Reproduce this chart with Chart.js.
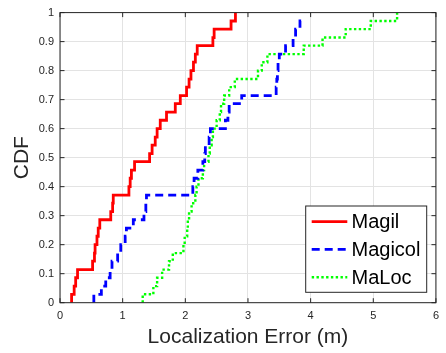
<!DOCTYPE html>
<html><head><meta charset="utf-8">
<style>html,body{margin:0;padding:0;background:#fff;}#wrap{width:446px;height:353px;}</style>
<script src="https://cdn.jsdelivr.net/npm/chart.js@4.4.0/dist/chart.umd.min.js"></script>
</head><body><div id="wrap"><canvas id="c" width="446" height="353" style="width:446px;height:353px"></canvas></div>
<script>
// ---- data ----
const seriesNames = ['Magil', 'Magicol', 'MaLoc'];
const xTickLabels = ['0', '1', '2', '3', '4', '5', '6'];
const yTickLabels = ['0', '0.1', '0.2', '0.3', '0.4', '0.5', '0.6', '0.7', '0.8', '0.9', '1'];

const magilErr = [0.185,0.185,0.226,0.25,0.28,0.52,0.55,0.56,0.59,0.61,0.635,0.81,0.84,0.85,1.10,1.12,1.14,1.19,1.43,1.47,1.52,1.55,1.60,1.70,1.84,1.92,2.02,2.06,2.09,2.13,2.16,2.19,2.44,2.46,2.73,2.80];
const magilCdf = [0,0.029,0.057,0.086,0.114,0.143,0.171,0.2,0.229,0.257,0.286,0.314,0.343,0.371,0.4,0.429,0.457,0.486,0.514,0.543,0.571,0.6,0.629,0.657,0.686,0.714,0.743,0.771,0.8,0.829,0.857,0.886,0.914,0.943,0.971,1.0];

const magicolErr = [0.54,0.54,0.66,0.73,0.80,0.83,0.92,0.97,1.04,1.06,1.17,1.34,1.37,1.38,2.12,2.14,2.20,2.28,2.31,2.32,2.38,2.40,2.64,2.68,2.70,2.90,3.45,3.46,3.47,3.48,3.50,3.60,3.72,3.76,3.83,3.90];
const magicolCdf = [0,0.029,0.057,0.086,0.114,0.143,0.171,0.2,0.229,0.257,0.286,0.314,0.343,0.371,0.4,0.429,0.457,0.486,0.514,0.543,0.571,0.6,0.629,0.657,0.686,0.714,0.743,0.771,0.8,0.829,0.857,0.886,0.914,0.943,0.971,0.971];

const malocErr = [1.32,1.32,1.49,1.55,1.63,1.74,1.80,1.97,1.99,2.03,2.04,2.06,2.10,2.16,2.18,2.21,2.28,2.30,2.37,2.39,2.42,2.44,2.50,2.55,2.57,2.62,2.70,2.79,3.16,3.22,3.31,3.89,4.19,4.56,4.96,5.38];
const malocCdf = [0,0.029,0.057,0.086,0.114,0.143,0.171,0.2,0.229,0.257,0.286,0.314,0.343,0.371,0.4,0.429,0.457,0.486,0.514,0.543,0.571,0.6,0.629,0.657,0.686,0.714,0.743,0.771,0.8,0.829,0.857,0.886,0.914,0.943,0.971,1.0];

const FONT = "'Liberation Sans', Arial, Helvetica, sans-serif";
const AXIS_COLOR = '#262626';

function pts(xs, ys) { return xs.map((x, i) => ({x: x, y: ys[i]})); }

const datasets = [
  {label: seriesNames[0], data: pts(magilErr, magilCdf), borderColor: '#ff0000', borderWidth: 2.8, borderDash: []},
  {label: seriesNames[1], data: pts(magicolErr, magicolCdf), borderColor: '#0000ff', borderWidth: 2.8, borderDash: [8, 5]},
  {label: seriesNames[2], data: pts(malocErr, malocCdf), borderColor: '#00ff00', borderWidth: 2.4, borderDash: [2.4, 2.4]}
].map(d => Object.assign(d, {stepped: 'before', pointRadius: 0, fill: false, tension: 0, borderCapStyle: 'butt', borderJoinStyle: 'miter'}));

const boxPlugin = {
  id: 'matlabBox',
  afterDatasetsDraw(chart) {
    const {ctx, chartArea: a, scales} = chart;
    ctx.save();
    ctx.strokeStyle = AXIS_COLOR;
    ctx.lineWidth = 1;
    ctx.setLineDash([]);
    ctx.strokeRect(a.left, a.top, a.right - a.left, a.bottom - a.top);
    const tl = 4.5;
    ctx.beginPath();
    scales.x.ticks.forEach(t => {
      const px = scales.x.getPixelForValue(t.value);
      ctx.moveTo(px, a.bottom); ctx.lineTo(px, a.bottom - tl);
      ctx.moveTo(px, a.top); ctx.lineTo(px, a.top + tl);
    });
    scales.y.ticks.forEach(t => {
      const py = scales.y.getPixelForValue(t.value);
      ctx.moveTo(a.left, py); ctx.lineTo(a.left + tl, py);
      ctx.moveTo(a.right, py); ctx.lineTo(a.right - tl, py);
    });
    ctx.stroke();
    ctx.restore();
  },
  afterDraw(chart) {
    const {ctx} = chart;
    const bx = 305.7, by = 206, bw = 121, bh = 86.3;
    ctx.save();
    ctx.fillStyle = '#ffffff';
    ctx.fillRect(bx, by, bw, bh);
    ctx.strokeStyle = '#262626';
    ctx.lineWidth = 1;
    ctx.setLineDash([]);
    ctx.strokeRect(bx, by, bw, bh);
    const rowY = [221.7, 249.3, 277.3];
    chart.data.datasets.forEach((d, i) => {
      ctx.beginPath();
      ctx.strokeStyle = d.borderColor;
      ctx.lineWidth = d.borderWidth;
      ctx.setLineDash(d.borderDash);
      ctx.moveTo(311.7, rowY[i]);
      ctx.lineTo(347.3, rowY[i]);
      ctx.stroke();
      ctx.setLineDash([]);
      ctx.fillStyle = '#000000';
      ctx.font = '20px ' + FONT;
      ctx.textBaseline = 'middle';
      ctx.textAlign = 'left';
      ctx.fillText(d.label, 351.5, rowY[i] + 1);
    });
    ctx.restore();
  }
};

new Chart(document.getElementById('c').getContext('2d'), {
  type: 'line',
  data: {datasets: datasets},
  options: {
    responsive: false,
    animation: false,
    events: [],
    layout: {padding: {left: 0, right: 7, top: 10.7, bottom: 0}},
    plugins: {legend: {display: false}, tooltip: {enabled: false}, title: {display: false}},
    scales: {
      x: {
        type: 'linear', min: 0, max: 6,
        ticks: {stepSize: 1, color: AXIS_COLOR, font: {family: FONT, size: 11}, padding: 7, maxRotation: 0, autoSkip: false,
          callback: (v) => xTickLabels[Math.round(v)]},
        grid: {color: '#e3e3e3', lineWidth: 1, drawTicks: false},
        border: {display: false},
        title: {display: true, text: 'Localization Error (m)', color: AXIS_COLOR, font: {family: FONT, size: 21}, padding: {top: 0, bottom: 3.5}},
        afterFit(s) { s.height = 50.3; }
      },
      y: {
        type: 'linear', min: 0, max: 1,
        ticks: {stepSize: 0.1, color: AXIS_COLOR, font: {family: FONT, size: 11}, padding: 6, autoSkip: false,
          callback: (v) => yTickLabels[Math.round(v * 10)]},
        grid: {color: '#e3e3e3', lineWidth: 1, drawTicks: false},
        border: {display: false},
        title: {display: true, text: 'CDF', color: AXIS_COLOR, font: {family: FONT, size: 21}, padding: {top: 9.4, bottom: 0}},
        afterFit(s) { s.width = 60; }
      }
    }
  },
  plugins: [boxPlugin]
});
</script>
</body></html>
